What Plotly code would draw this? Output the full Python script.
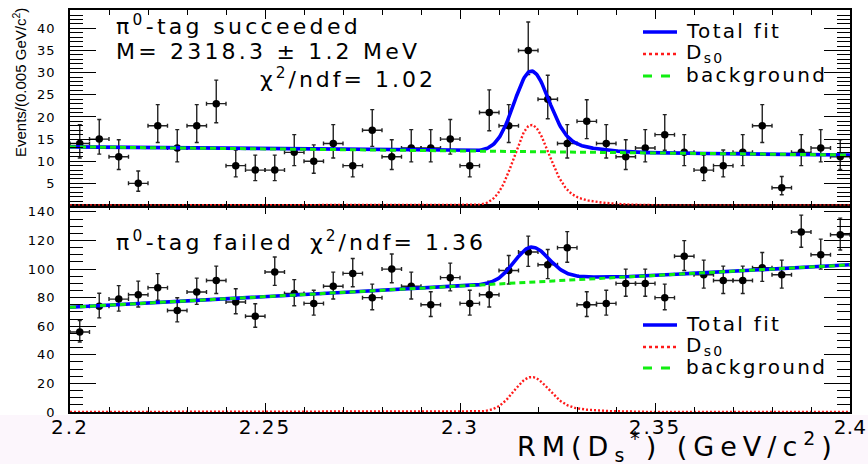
import numpy as np
import plotly.graph_objects as go

# ---- binning of RM(Ds*) in GeV/c^2 : 40 bins of 5 MeV ----
x_lo, x_hi = 2.2, 2.4
bin_width = 0.005
bin_centres = x_lo + bin_width * (np.arange(40) + 0.5)

# ---- event counts per bin ----
counts_tag_ok = [14, 15, 11, 5, 18, 13, 18, 23, 9, 8,
                 8, 12, 10, 14, 9, 17, 11, 13, 13, 15,
                 9, 21, 18, 35, 24, 14, 19, 14, 11, 13,
                 16, 12, 8, 9, 12, 18, 4, 12, 13, 11]
counts_tag_fail = [56, 74, 79, 82, 87, 71, 84, 92, 77, 67,
                   98, 83, 76, 88, 97, 80, 100, 88, 75, 94,
                   76, 82, 99, 112, 103, 115, 75, 76, 90, 90,
                   80, 109, 96, 92, 92, 101, 96, 126, 110, 124]

# ---- fit results ----
ds0_mean = 2.3183          # GeV/c^2
ds0_sigma_core = 0.0044
ds0_sigma_tail = 0.011
ds0_tail_frac = 0.14
ok_bkg_ends = (13.25, 11.4)    # linear background at 2.2 and 2.4
ok_sig_peak = 18.2
fail_bkg_ends = (73.3, 103.0)
fail_sig_peak = 24.5

x_tick_vals = [2.2, 2.25, 2.3, 2.35, 2.4]
x_tick_text = ["2.2", "2.25", "2.3", "2.35", "2.4"]
ok_y_ticks = [5, 10, 15, 20, 25, 30, 35, 40]
fail_y_ticks = [0, 20, 40, 60, 80, 100, 120, 140]
ok_y_max, fail_y_max = 44.15, 144.5

FONT = "DejaVu Sans"


def spaced(txt, px):
    return f'<span style="letter-spacing:{px}px">{txt}</span>'


def poisson_err(n):
    n = np.asarray(n, dtype=float)
    s = np.sqrt(n + 0.25)
    return s + 0.5, s - 0.5


def ds0_shape(x):
    d = x - ds0_mean
    core = np.exp(-0.5 * (d / ds0_sigma_core) ** 2)
    tail = np.exp(-0.5 * (d / ds0_sigma_tail) ** 2)
    return np.where(d < 0, core, (1 - ds0_tail_frac) * core + ds0_tail_frac * tail)


def linear_bkg(x, ends):
    return ends[0] + (ends[1] - ends[0]) * (x - x_lo) / (x_hi - x_lo)


def minor_vals(lo, hi, step):
    return [round(v, 6) for v in np.arange(lo, hi + step / 2, step)]


xf = np.linspace(x_lo, x_hi, 801)

fig = go.Figure()


def add_panel(counts, bkg_ends, sig_peak, xa, ya):
    up, lo = poisson_err(counts)
    fig.add_trace(go.Scatter(
        x=bin_centres, y=counts, mode="markers", xaxis=xa, yaxis=ya,
        marker=dict(color="black", size=7.5),
        error_y=dict(type="data", symmetric=False, array=up, arrayminus=lo,
                     color="#222222", thickness=1.4, width=2),
        error_x=dict(type="constant", value=bin_width / 2,
                     color="#222222", thickness=1.4, width=2),
        showlegend=False, hoverinfo="skip"))
    bkg = linear_bkg(xf, bkg_ends)
    sig = sig_peak * ds0_shape(xf)
    fig.add_trace(go.Scatter(x=xf, y=bkg + sig, mode="lines", xaxis=xa, yaxis=ya,
                             line=dict(color="#0000ff", width=3.6),
                             showlegend=False, hoverinfo="skip"))
    fig.add_trace(go.Scatter(x=xf, y=sig, mode="lines", xaxis=xa, yaxis=ya,
                             line=dict(color="#ff1a1a", width=2.4, dash="2px,2px"),
                             showlegend=False, hoverinfo="skip"))
    fig.add_trace(go.Scatter(x=xf, y=bkg, mode="lines", xaxis=xa, yaxis=ya,
                             line=dict(color="#11ee11", width=3, dash="6px,4px"),
                             showlegend=False, hoverinfo="skip"))


add_panel(counts_tag_ok, ok_bkg_ends, ok_sig_peak, "x2", "y2")
add_panel(counts_tag_fail, fail_bkg_ends, fail_sig_peak, "x", "y")

# ---- figure geometry (pixels) ----
W, H = 868, 464
ML, MR, MT, MB = 70, 18, 10, 52
PW, PH = W - ML - MR, H - MT - MB
split = (412 - 205.5) / PH


def px_x(p):
    return (p - ML) / PW


def px_y(p):
    return (H - MB - p) / PH


x_common = dict(
    range=[x_lo, x_hi], tickmode="array", tickvals=x_tick_vals,
    ticks="inside", ticklen=9, tickwidth=1, tickcolor="black",
    showline=True, linecolor="black", linewidth=1.5, mirror="ticks",
    showgrid=False, zeroline=False, automargin=False,
    minor=dict(tickmode="array", tickvals=minor_vals(x_lo, x_hi, 0.01),
               ticks="inside", ticklen=5, tickwidth=1, tickcolor="black",
               showgrid=False),
)
y_common = dict(
    ticks="inside", ticklen=26, tickwidth=1, tickcolor="black",
    showline=True, linecolor="black", linewidth=1.5, mirror="ticks",
    showgrid=False, zeroline=False, ticklabelstandoff=10, automargin=False,
    tickfont=dict(family=FONT, size=13, color="black"),
)

# the last label sits at the right edge of the page, so it is kept compact
x_labels = [spaced(t, 2) for t in x_tick_text[:-1]] + [spaced(x_tick_text[-1], 0.3)]

fig.update_layout(
    width=W, height=H,
    margin=dict(l=ML, r=MR, t=MT, b=MB, autoexpand=False),
    paper_bgcolor="white", plot_bgcolor="white", showlegend=False,
    xaxis=dict(**x_common, ticktext=x_labels,
               tickfont=dict(family=FONT, size=20, color="black"),
               ticklabelstandoff=-4, anchor="y"),
    xaxis2=dict(**x_common, showticklabels=False, anchor="y2", matches="x"),
    yaxis=dict(**y_common, domain=[0, split], range=[0, fail_y_max],
               tickmode="array", tickvals=fail_y_ticks,
               ticktext=[spaced(str(v), 1) for v in fail_y_ticks],
               minor=dict(tickmode="array", tickvals=minor_vals(0, fail_y_max, 5),
                          ticks="inside", ticklen=13, tickwidth=1, tickcolor="black"),
               anchor="x"),
    yaxis2=dict(**y_common, domain=[split, 1], range=[0, ok_y_max],
                tickmode="array", tickvals=ok_y_ticks,
                ticktext=[spaced(str(v), 1) for v in ok_y_ticks],
                minor=dict(tickmode="array", tickvals=minor_vals(0, ok_y_max, 1),
                           ticks="inside", ticklen=13, tickwidth=1, tickcolor="black"),
                anchor="x2"),
)

# faint tint under the x axis labels
fig.add_shape(type="rect", xref="paper", yref="paper",
              x0=px_x(0), x1=px_x(W), y0=px_y(H), y1=px_y(415),
              fillcolor="#fcf6fc", line=dict(width=0), layer="below")

ann_font = dict(family=FONT, size=22, color="black")


def label(txt, xp, yp, font=ann_font, ls=2.5, **kw):
    fig.add_annotation(text=spaced(txt, ls), x=px_x(xp), y=px_y(yp),
                       xref="paper", yref="paper", showarrow=False,
                       xanchor=kw.pop("xanchor", "left"), yanchor="middle",
                       font=font, **kw)


# panel captions
label("π<sup>0</sup>-tag succeeded", 114, 25, ls=3.3)
label("M= 2318.3 ± 1.2 MeV", 114, 51, ls=3.2)
label("χ<sup>2</sup>/ndf= 1.02", 258, 78, ls=3)
label("π<sup>0</sup>-tag failed", 114, 241, ls=3.3)
label("χ<sup>2</sup>/ndf= 1.36", 308, 241, ls=3)

# legends
leg_font = dict(family=FONT, size=20, color="black")
leg_items = [("Total fit", dict(color="#0000ff", width=3.6, dash="solid")),
             ("D<sub>s0</sub>", dict(color="#ff1a1a", width=2.4, dash="dot")),
             ("background", dict(color="#11ee11", width=3, dash="dash"))]
for rows in ([32, 54, 76], [325, 347, 368]):
    for (name, ln), yrow in zip(leg_items, rows):
        fig.add_shape(type="line", xref="paper", yref="paper",
                      x0=px_x(643), x1=px_x(677), y0=px_y(yrow), y1=px_y(yrow),
                      line=ln)
        label(name, 684, yrow - 1, font=leg_font, ls=2.3)

# axis titles
fig.add_annotation(text=spaced("RM(D<sub>s</sub><sup>*</sup>) (GeV/c<sup>2</sup>)", 6),
                   x=px_x(840), y=px_y(446), xref="paper", yref="paper",
                   showarrow=False, xanchor="right", yanchor="middle",
                   font=dict(family=FONT, size=27, color="black"))
fig.add_annotation(text="Events/(0.005 GeV/c<sup>2</sup>)",
                   x=px_x(19), y=px_y(83), xref="paper", yref="paper",
                   showarrow=False, textangle=-90, xanchor="center", yanchor="middle",
                   font=dict(family="Liberation Sans", size=15, color="black"))

fig.write_html("out.html")
